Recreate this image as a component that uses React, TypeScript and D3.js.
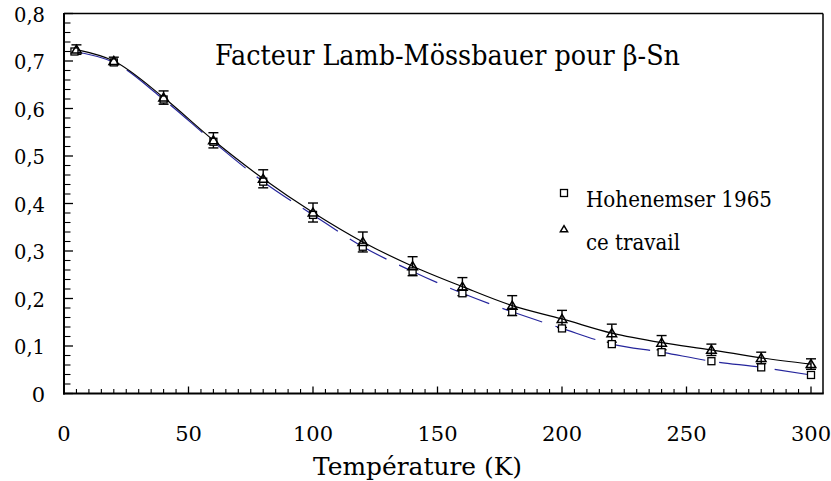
import React from "react";
import * as d3 from "d3";

// ---- data ----
const T_CE = [5, 20, 40, 60, 80, 100, 120, 140, 160, 180, 200, 220, 240, 260, 280, 300];
const F_CE = [0.724, 0.7, 0.623, 0.533, 0.452, 0.381, 0.319, 0.268, 0.225, 0.185, 0.157, 0.127, 0.107, 0.092, 0.075, 0.062];
const ERR_CE = [0.01, 0.008, 0.014, 0.016, 0.019, 0.02, 0.021, 0.02, 0.019, 0.021, 0.018, 0.019, 0.015, 0.012, 0.012, 0.011];
const T_HOH = [4.2, 20, 40, 60, 80, 100, 120, 140, 160, 180, 200, 220, 240, 260, 280, 300];
const F_HOH = [0.72, 0.697, 0.619, 0.53, 0.446, 0.376, 0.309, 0.257, 0.211, 0.172, 0.137, 0.104, 0.087, 0.068, 0.055, 0.039];
const X_TICKS = [0, 50, 100, 150, 200, 250, 300];
const Y_TICKS = [0, 0.1, 0.2, 0.3, 0.4, 0.5, 0.6, 0.7, 0.8];
const TITLE = "Facteur Lamb-Mössbauer pour β-Sn";
const X_LABEL = "Température (K)";
const LEGEND = ["Hohenemser 1965", "ce travail"];

const W = 831;
const H = 481;
const FONT = "'DejaVu Serif', 'Liberation Serif', serif";
const tStyle = { fontFamily: FONT } as React.CSSProperties;

export default function App() {
  const x = d3.scaleLinear().domain([0, 300]).range([64, 811]);
  const y = d3.scaleLinear().domain([0, 0.8]).range([393.5, 13.5]);
  const frameRight = 823;

  const ce = T_CE.map((t, i) => ({ t, f: F_CE[i], e: ERR_CE[i] }));
  const hoh = T_HOH.map((t, i) => ({ t, f: F_HOH[i] }));

  const line = d3
    .line<{ t: number; f: number }>()
    .x((d) => x(d.t))
    .y((d) => y(d.f))
    .curve(d3.curveMonotoneX);

  const xMinor = d3.range(0, 301, 5).filter((v) => v % 50 !== 0);
  const yMinor = d3.range(0, 41, 1).map((v) => v * 0.02).filter((_, i) => i % 5 !== 0);

  const fmt = (v: number) => (v === 0 ? "0" : d3.format(".1f")(v).replace(".", ","));

  const tri = (cx: number, cy: number, s = 1) =>
    `M${cx},${cy - 4.5 * s}L${cx + 4.8 * s},${cy + 3.5 * s}L${cx - 4.8 * s},${cy + 3.5 * s}Z`;

  return (
    <svg
      width={W}
      height={H}
      style={{ position: "absolute", left: 0, top: 0, background: "#fff", fontFamily: FONT }}
    >
      {/* frame */}
      <line x1={64} x2={frameRight} y1={13.5} y2={13.5} stroke="#000" strokeWidth={1.5} />
      <line x1={frameRight} x2={frameRight} y1={13.5} y2={393.5} stroke="#000" strokeWidth={1.5} />
      <line x1={64} x2={64} y1={13} y2={394.5} stroke="#000" strokeWidth={2} />
      <line x1={63} x2={frameRight + 0.75} y1={393.5} y2={393.5} stroke="#000" strokeWidth={2} />

      {/* y ticks */}
      {Y_TICKS.map((v) => (
        <g key={"yt" + v}>
          <line x1={64} x2={73} y1={y(v)} y2={y(v)} stroke="#000" strokeWidth={1.3} />
          <text x={45} y={y(v) + 8} textAnchor="end" fontSize={21} fill="#000" style={tStyle}
            textLength={v === 0 ? undefined : 31} lengthAdjust="spacingAndGlyphs">
            {fmt(v)}
          </text>
        </g>
      ))}
      {yMinor.map((v) => (
        <line key={"ym" + v} x1={64} x2={70.5} y1={y(v)} y2={y(v)} stroke="#000" strokeWidth={1.1} />
      ))}

      {/* x ticks */}
      {X_TICKS.map((v) => (
        <g key={"xt" + v}>
          <line x1={x(v)} x2={x(v)} y1={393.5} y2={386.5} stroke="#000" strokeWidth={1.3} />
          <text x={x(v)} y={441} textAnchor="middle" fontSize={21} fill="#000" style={tStyle}>
            {v}
          </text>
        </g>
      ))}
      {xMinor.map((v) => (
        <line key={"xm" + v} x1={x(v)} x2={x(v)} y1={393.5} y2={389} stroke="#000" strokeWidth={1.1} />
      ))}

      {/* curves */}
      <path d={line(hoh) || ""} fill="none" stroke="#25259c" strokeWidth={1.2} strokeDasharray="42 14" />
      <path d={line(ce) || ""} fill="none" stroke="#000" strokeWidth={1.2} />

      {/* error bars */}
      {ce.map((d) => (
        <g key={"eb" + d.t} stroke="#000" strokeWidth={1.4}>
          <line x1={x(d.t)} x2={x(d.t)} y1={y(d.f + d.e)} y2={y(d.f - d.e)} />
          <line x1={x(d.t) - 5} x2={x(d.t) + 5} y1={y(d.f + d.e)} y2={y(d.f + d.e)} />
          <line x1={x(d.t) - 5} x2={x(d.t) + 5} y1={y(d.f - d.e)} y2={y(d.f - d.e)} />
        </g>
      ))}

      {/* squares */}
      {hoh.map((d) => (
        <rect
          key={"sq" + d.t}
          x={x(d.t) - 3.5}
          y={y(d.f) - 3.5}
          width={7}
          height={7}
          fill="#fff"
          stroke="#000"
          strokeWidth={1.3}
        />
      ))}

      {/* triangles */}
      {ce.map((d) => (
        <path key={"tr" + d.t} d={tri(x(d.t), y(d.f))} fill="none" stroke="#000" strokeWidth={1.5} />
      ))}

      {/* title */}
      <text x={215} y={65} fontSize={27} fill="#000" style={tStyle} textLength={465} lengthAdjust="spacingAndGlyphs">
        {TITLE}
      </text>

      {/* legend */}
      <rect x={560.5} y={189.5} width={7} height={7} fill="#fff" stroke="#000" strokeWidth={1.3} />
      <text x={586} y={207} fontSize={23} fill="#000" style={tStyle} textLength={186} lengthAdjust="spacingAndGlyphs">
        {LEGEND[0]}
      </text>
      <path d={tri(564, 229, 0.75)} fill="none" stroke="#000" strokeWidth={1.5} />
      <text x={586} y={250} fontSize={23} fill="#000" style={tStyle} textLength={94} lengthAdjust="spacingAndGlyphs">
        {LEGEND[1]}
      </text>

      {/* x label */}
      <text x={313} y={475} fontSize={24} fill="#000" style={tStyle} textLength={209} lengthAdjust="spacingAndGlyphs">
        {X_LABEL}
      </text>
    </svg>
  );
}
